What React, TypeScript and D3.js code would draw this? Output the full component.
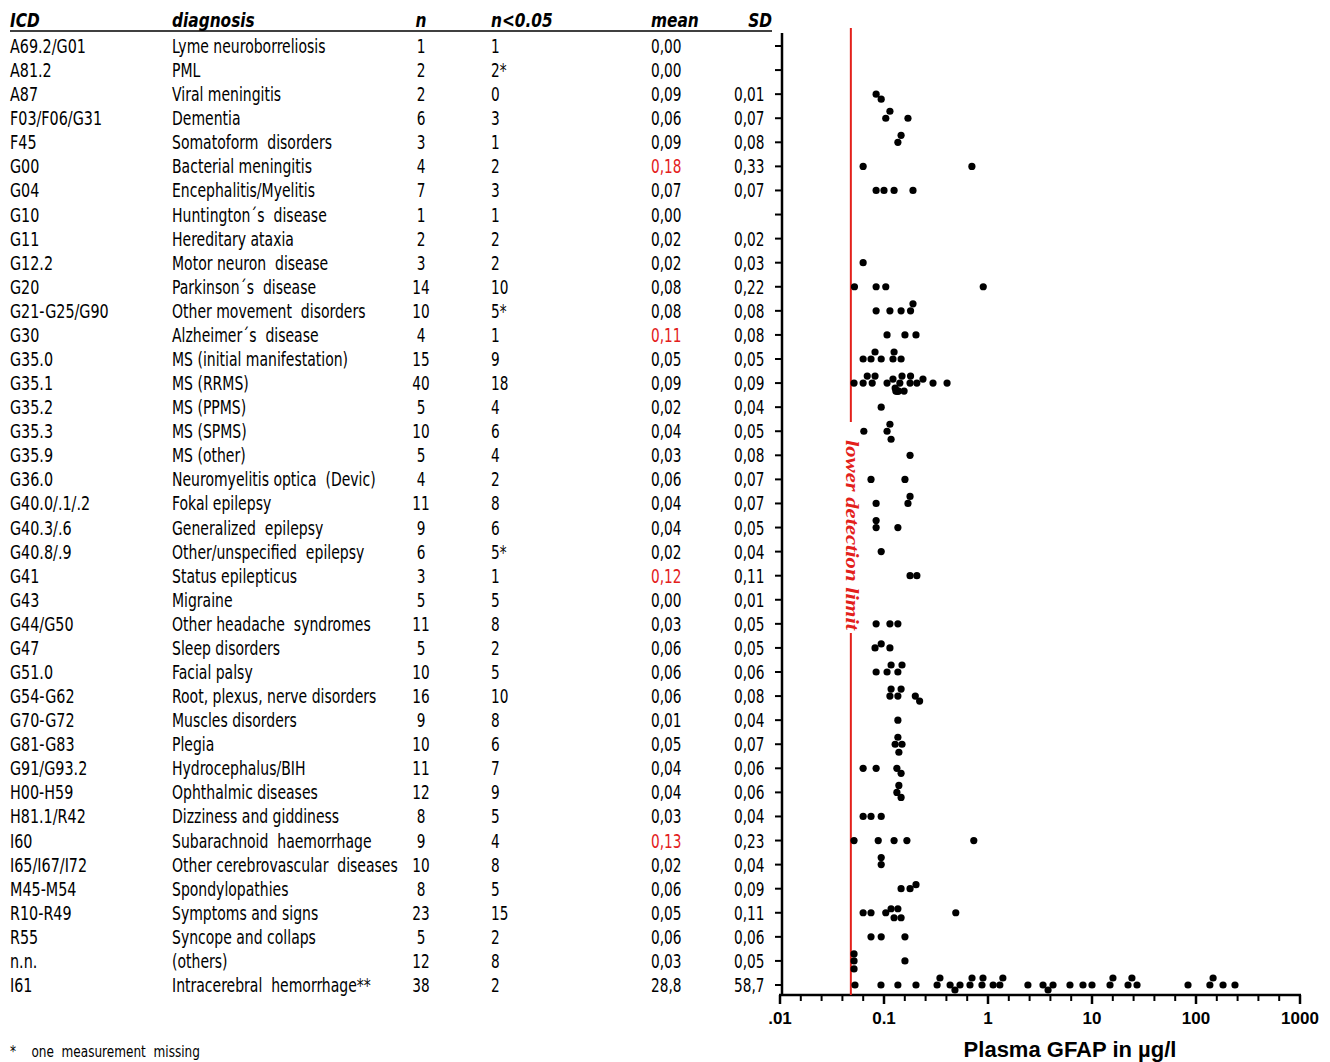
import React, { useMemo } from 'react';
import * as d3 from 'd3';

// table columns, one entry per diagnosis row
const icdCodes = [
  'A69.2/G01', 'A81.2', 'A87', 'F03/F06/G31', 'F45', 'G00', 'G04', 'G10', 'G11', 'G12.2',
  'G20', 'G21-G25/G90', 'G30', 'G35.0', 'G35.1', 'G35.2', 'G35.3', 'G35.9', 'G36.0', 'G40.0/.1/.2',
  'G40.3/.6', 'G40.8/.9', 'G41', 'G43', 'G44/G50', 'G47', 'G51.0', 'G54-G62', 'G70-G72', 'G81-G83',
  'G91/G93.2', 'H00-H59', 'H81.1/R42', 'I60', 'I65/I67/I72', 'M45-M54', 'R10-R49', 'R55', 'n.n.', 'I61',
];
const diagnoses = [
  'Lyme neuroborreliosis', 'PML', 'Viral meningitis', 'Dementia', 'Somatoform  disorders',
  'Bacterial meningitis', 'Encephalitis/Myelitis', 'Huntington´s  disease', 'Hereditary ataxia',
  'Motor neuron  disease', 'Parkinson´s  disease', 'Other movement  disorders', 'Alzheimer´s  disease',
  'MS (initial manifestation)', 'MS (RRMS)', 'MS (PPMS)', 'MS (SPMS)', 'MS (other)',
  'Neuromyelitis optica  (Devic)', 'Fokal epilepsy', 'Generalized  epilepsy', 'Other/unspecified  epilepsy',
  'Status epilepticus', 'Migraine', 'Other headache  syndromes', 'Sleep disorders', 'Facial palsy',
  'Root, plexus, nerve disorders', 'Muscles disorders', 'Plegia', 'Hydrocephalus/BIH', 'Ophthalmic diseases',
  'Dizziness and giddiness', 'Subarachnoid  haemorrhage', 'Other cerebrovascular  diseases', 'Spondylopathies',
  'Symptoms and signs', 'Syncope and collaps', '(others)', 'Intracerebral  hemorrhage**',
];
const nTotal = [
  '1', '2', '2', '6', '3', '4', '7', '1', '2', '3', '14', '10', '4', '15', '40', '5', '10', '5', '4', '11',
  '9', '6', '3', '5', '11', '5', '10', '16', '9', '10', '11', '12', '8', '9', '10', '8', '23', '5', '12', '38',
];
const nBelow = [
  '1', '2*', '0', '3', '1', '2', '3', '1', '2', '2', '10', '5*', '1', '9', '18', '4', '6', '4', '2', '8',
  '6', '5*', '1', '5', '8', '2', '5', '10', '8', '6', '7', '9', '5', '4', '8', '5', '15', '2', '8', '2',
];
const means = [
  '0,00', '0,00', '0,09', '0,06', '0,09', '0,18', '0,07', '0,00', '0,02', '0,02', '0,08', '0,08', '0,11',
  '0,05', '0,09', '0,02', '0,04', '0,03', '0,06', '0,04', '0,04', '0,02', '0,12', '0,00', '0,03', '0,06',
  '0,06', '0,06', '0,01', '0,05', '0,04', '0,04', '0,03', '0,13', '0,02', '0,06', '0,05', '0,06', '0,03', '28,8',
];
const sds = [
  '', '', '0,01', '0,07', '0,08', '0,33', '0,07', '', '0,02', '0,03', '0,22', '0,08', '0,08', '0,05', '0,09',
  '0,04', '0,05', '0,08', '0,07', '0,07', '0,05', '0,04', '0,11', '0,01', '0,05', '0,05', '0,06', '0,08',
  '0,04', '0,07', '0,06', '0,06', '0,04', '0,23', '0,04', '0,09', '0,11', '0,06', '0,05', '58,7',
];
const highlightedMeans = ['G00', 'G30', 'G41', 'I60'];

// plasma GFAP measurements above the detection limit (µg/l), per row
const gfapValues: number[][] = [
  [],
  [],
  [0.084, 0.094],
  [0.104, 0.114, 0.17],
  [0.136, 0.146],
  [0.063, 0.7],
  [0.084, 0.1, 0.125, 0.19],
  [],
  [],
  [0.063],
  [0.052, 0.084, 0.104, 0.9],
  [0.084, 0.114, 0.146, 0.18, 0.19],
  [0.107, 0.159, 0.203],
  [0.063, 0.075, 0.082, 0.094, 0.122, 0.125, 0.146],
  [0.0515, 0.063, 0.069, 0.077, 0.082, 0.107, 0.122, 0.128, 0.13, 0.133, 0.136, 0.138, 0.142, 0.149,
    0.156, 0.178, 0.18, 0.207, 0.237, 0.296, 0.404],
  [0.094],
  [0.064, 0.107, 0.114, 0.117],
  [0.178],
  [0.075, 0.159],
  [0.084, 0.17, 0.178],
  [0.084, 0.084, 0.136],
  [0.094],
  [0.178, 0.207],
  [],
  [0.084, 0.114, 0.136],
  [0.082, 0.094, 0.114],
  [0.084, 0.107, 0.117, 0.136, 0.149],
  [0.114, 0.117, 0.136, 0.146, 0.2, 0.22],
  [0.136],
  [0.128, 0.136, 0.139, 0.149],
  [0.063, 0.084, 0.133, 0.146],
  [0.133, 0.139, 0.146],
  [0.063, 0.075, 0.094],
  [0.0515, 0.088, 0.125, 0.166, 0.73],
  [0.094, 0.094],
  [0.146, 0.178, 0.203],
  [0.063, 0.075, 0.104, 0.117, 0.125, 0.136, 0.146, 0.49],
  [0.075, 0.094, 0.159],
  [0.0515, 0.0515, 0.0515, 0.159],
  [0.0526, 0.0935, 0.136, 0.203, 0.324, 0.345, 0.432, 0.481, 0.538, 0.671, 0.702, 0.875, 0.895, 1.12,
    1.3, 1.39, 2.42, 3.38, 3.78, 4.22, 6.14, 8.19, 10.0, 14.9, 15.9, 22.2, 24.2, 27.1, 83.8, 136, 146,
    182, 237],
];

const detectionLimit = 0.048;
const xTickValues = [0.01, 0.1, 1, 10, 100, 1000];
const xTickLabels = ['.01', '0.1', '1', '10', '100', '1000'];

const W = 1330;
const H = 1062;
const RED = '#e3201b';
const tableFont = '"DejaVu Sans Condensed", "Liberation Sans Narrow", sans-serif';

// condensed text: the original table uses a narrow face, so squeeze horizontally
const Narrow: React.FC<{
  x: number; y: number; s?: number; anchor?: 'start' | 'middle' | 'end'; fill?: string; children: React.ReactNode;
}> = ({ x, y, s = 0.84, anchor = 'start', fill = '#000', children }) => (
  <text transform={`translate(${x},${y}) scale(${s},1)`} textAnchor={anchor} fill={fill}
    style={{ whiteSpace: 'pre' }}>{children}</text>
);

const App: React.FC = () => {
  const x = d3.scaleLog().domain([0.01, 1000]).range([780, 1300]);
  const y = d3.scalePoint<string>().domain(icdCodes).range([46, 985]);
  const axisY = 995;
  const axisX = 782;
  const lod = x(detectionLimit);

  // minor ticks: five even steps per decade
  const minorTicks = d3.range(-2, 3.001, 0.2).map(e => Math.pow(10, e));

  // simple collision offset so overlapping dots nudge up/down like a scatter column
  const dots = useMemo(() => {
    const out: { cx: number; cy: number; key: string }[] = [];
    const offsets = [0, -4, 5, -7, 8];
    gfapValues.forEach((vals, i) => {
      const base = y(icdCodes[i]) as number;
      const placed: { cx: number; cy: number }[] = [];
      [...vals].sort((a, b) => a - b).forEach((v, j) => {
        const cx = x(v);
        let cy = base;
        for (const o of offsets) {
          const cand = base + o;
          cy = cand;
          if (placed.every(p => Math.hypot(p.cx - cx, p.cy - cand) >= 6.5)) break;
        }
        placed.push({ cx, cy });
        out.push({ cx, cy, key: `${i}-${j}` });
      });
    });
    return out;
  }, []);

  return (
    <svg width={W} height={H} style={{ position: 'absolute', left: 0, top: 0, background: '#fff' }}>
      {/* headers */}
      <g fontFamily={tableFont} fontSize={19} fontWeight={700} fontStyle="italic">
        <Narrow x={10} y={27} s={0.9}>ICD</Narrow>
        <Narrow x={172} y={27} s={0.9}>diagnosis</Narrow>
        <Narrow x={421} y={27} s={0.9} anchor="middle">n</Narrow>
        <Narrow x={491} y={27} s={0.9}>n&lt;0.05</Narrow>
        <Narrow x={651} y={27} s={0.9}>mean</Narrow>
        <Narrow x={772} y={27} s={0.9} anchor="end">SD</Narrow>
      </g>
      <line x1={10} x2={772} y1={31} y2={31} stroke="#000" strokeWidth={1.5} />

      {/* table rows */}
      <g fontFamily={tableFont} fontSize={19}>
        {icdCodes.map((code, i) => {
          const by = (y(code) as number) + 7;
          return (
            <g key={code}>
              <Narrow x={10} y={by}>{code}</Narrow>
              <Narrow x={172} y={by} s={0.82}>{diagnoses[i]}</Narrow>
              <Narrow x={421} y={by} s={0.8} anchor="middle">{nTotal[i]}</Narrow>
              <Narrow x={491} y={by} s={0.8}>{nBelow[i]}</Narrow>
              <Narrow x={651} y={by} s={0.8} fill={highlightedMeans.includes(code) ? RED : '#000'}>{means[i]}</Narrow>
              <Narrow x={734} y={by} s={0.8}>{sds[i]}</Narrow>
            </g>
          );
        })}
      </g>

      {/* y axis */}
      <line x1={axisX} x2={axisX} y1={33} y2={axisY} stroke="#000" strokeWidth={2.5} />
      {icdCodes.map(code => (
        <line key={code} x1={axisX - 7} x2={axisX} y1={y(code)} y2={y(code)} stroke="#000" strokeWidth={2} />
      ))}

      {/* x axis */}
      <line x1={779} x2={1301} y1={axisY} y2={axisY} stroke="#000" strokeWidth={2.5} />
      {minorTicks.map((t, i) => (
        <line key={i} x1={x(t)} x2={x(t)} y1={axisY} y2={axisY + 6} stroke="#000" strokeWidth={2} />
      ))}
      {xTickValues.map(t => (
        <line key={t} x1={x(t)} x2={x(t)} y1={axisY} y2={axisY + 9} stroke="#000" strokeWidth={2.5} />
      ))}
      {xTickValues.map((t, i) => (
        <text key={t} x={x(t)} y={1024} textAnchor="middle" fontFamily="Liberation Sans, Arial, sans-serif"
          fontWeight={700} fontSize={17}>{xTickLabels[i]}</text>
      ))}
      <text x={1070} y={1057} textAnchor="middle" fontFamily="Liberation Sans, Arial, sans-serif"
        fontWeight={700} fontSize={22}>Plasma GFAP in µg/l</text>

      {/* detection limit */}
      <line x1={lod} x2={lod} y1={28} y2={422} stroke={RED} strokeWidth={2} />
      <line x1={lod} x2={lod} y1={633} y2={axisY} stroke={RED} strokeWidth={2} />
      <text transform={`translate(${lod - 5},${535}) rotate(90)`} textAnchor="middle"
        fontFamily="Liberation Serif, Times New Roman, serif" fontWeight={700} fontStyle="italic"
        fontSize={18} fill={RED} textLength={190} lengthAdjust="spacingAndGlyphs">lower detection limit</text>

      {/* measurements */}
      {dots.map(d => (
        <circle key={d.key} cx={d.cx} cy={d.cy} r={3.6} fill="#000" />
      ))}

      {/* footnote */}
      <g fontFamily={tableFont} fontSize={16}>
        <Narrow x={10} y={1057}>*    one  measurement  missing</Narrow>
      </g>
    </svg>
  );
};

export default App;
